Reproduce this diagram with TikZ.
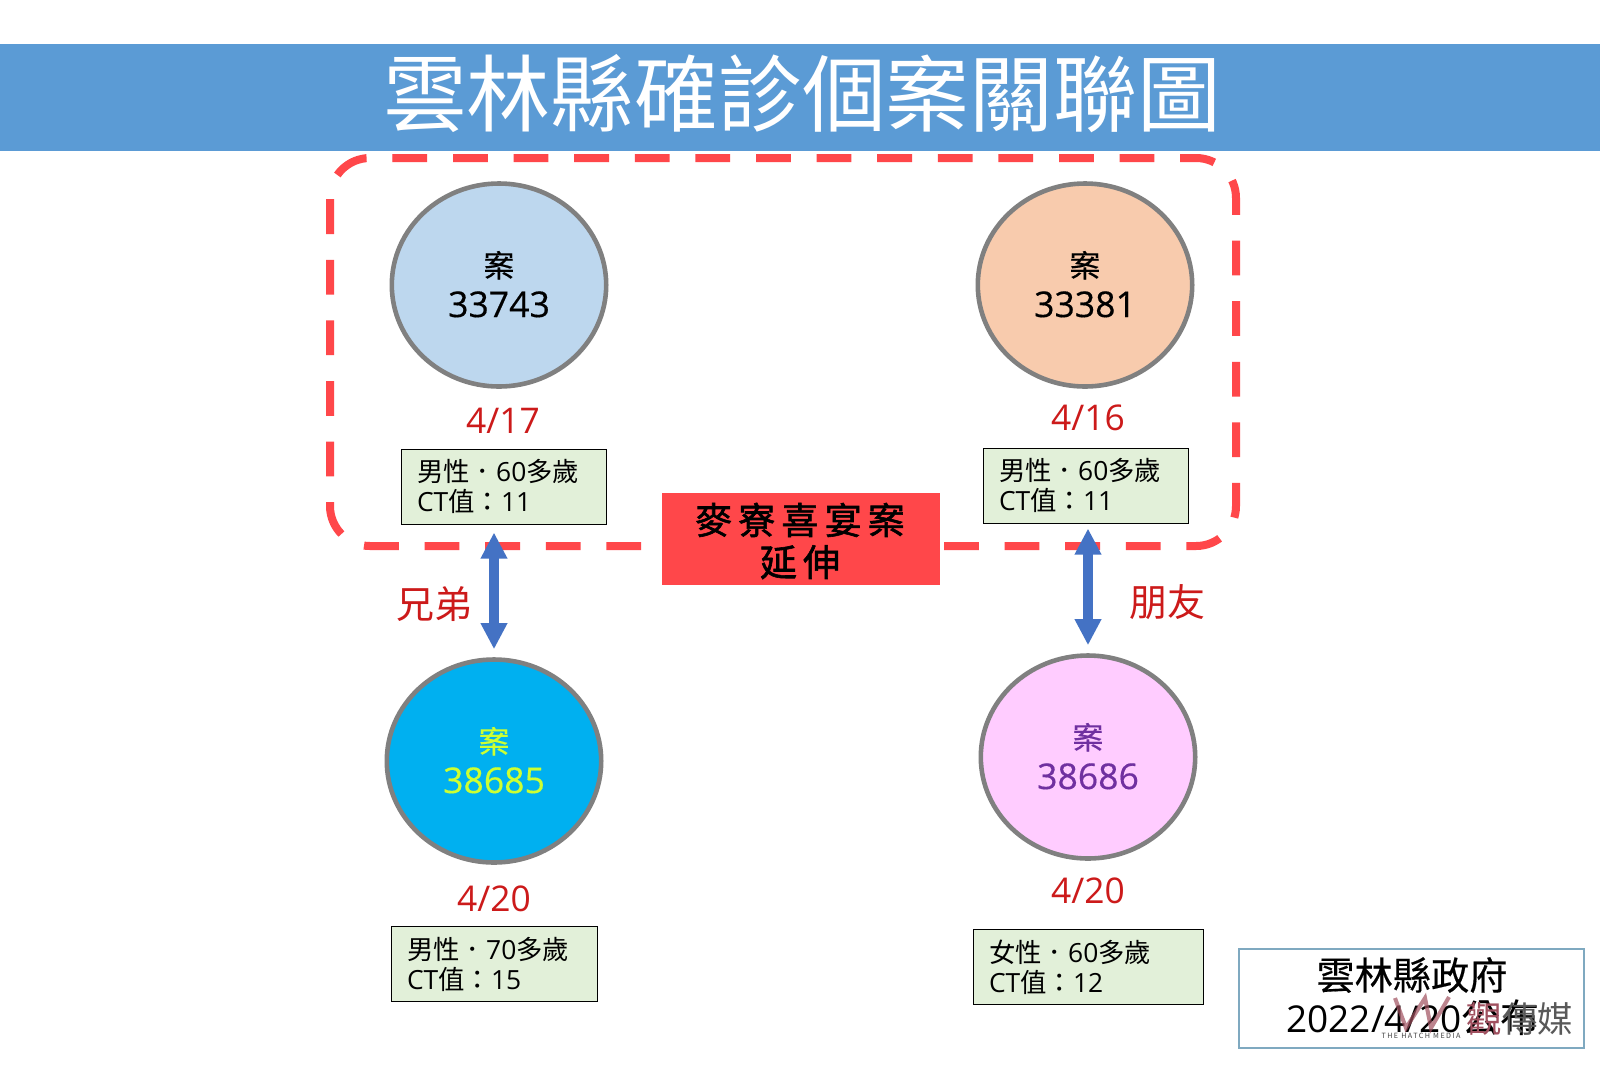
\documentclass[tikz,border=0pt]{standalone}
\usepackage{fontspec}
\setmainfont{Open Sans}
\newfontfamily\hei{Noto Sans CJK TC}
\newfontfamily\heib[FakeBold=1.6]{Noto Sans CJK TC}
\newfontfamily\heim[FakeBold=0.4]{Noto Sans CJK TC}
\newfontfamily\nummed[FakeBold=0.4]{Open Sans}
\usetikzlibrary{arrows.meta,shapes.geometric}
\definecolor{band}{HTML}{5B9BD5}
\definecolor{dashred}{HTML}{FF474A}
\definecolor{datered}{HTML}{CC1A1A}
\definecolor{infogreen}{HTML}{E2F0D9}
\definecolor{arrowblue}{HTML}{4472C4}
\definecolor{logored}{HTML}{A0505F}
\definecolor{caseblue}{HTML}{BDD7EE}
\definecolor{caseorange}{HTML}{F8CBAD}
\definecolor{casecyan}{HTML}{00B0F0}
\definecolor{casepink}{HTML}{FFCCFF}
\definecolor{caseyellow}{HTML}{CCFF33}
\definecolor{casepurple}{HTML}{7030A0}
\definecolor{srcblue}{HTML}{7FA9C0}
\newcommand{\casetext}[1]{{\heim\fontsize{15.5}{20}\selectfont 案}\\{\nummed #1}\rule[-1pt]{0pt}{0pt}}
\tikzset{
  casenode/.style={ellipse,draw=black!50,line width=2.3pt,minimum width=107.2pt,minimum height=101.5pt,
    inner sep=0pt,align=center,font=\fontsize{17.8}{20}\selectfont},
  datenode/.style={text=datered,font=\fontsize{17.7}{20}\selectfont,inner sep=0pt},
  infonode/.style={draw=black,line width=.5pt,fill=infogreen,minimum height=37.5pt,inner ysep=0pt,inner xsep=8pt,
    text width=#1,align=left,font=\fontsize{13.2}{15}\selectfont},
  relnode/.style={text=datered,font=\hei\fontsize{19}{20}\selectfont,inner sep=0pt},
  rel/.style={{Triangle[width=12.5pt,length=13pt]}-{Triangle[width=12.5pt,length=13pt]},arrowblue,line width=5pt},
  groupline/.style={dashred,line width=4pt,dash pattern=on 17.4pt off 12.9pt,rounded corners=20pt}
}
\begin{document}
\begin{tikzpicture}[x=.5pt,y=-.5pt]
  \useasboundingbox (0,0) rectangle (1600,1067);
  \fill[white] (0,0) rectangle (1600,1067);
  \node[fill=band,minimum width=800pt,minimum height=53.5pt,inner sep=0pt] (band) at (800,97.5) {};
  \node[text=white,font=\hei\fontsize{41.9}{44}\selectfont,inner sep=0pt] (title) at (802,94) {雲林縣確診個案關聯圖};

  % the two halves of the frame meet behind the red box
  \draw[groupline] (392.4,158) -- (1236,158) -- (1236,546) -- (801,546);
  \draw[groupline] (823,546) -- (330,546) -- (330,158) -- (392.4,158);

  \node[casenode,fill=caseblue] (1) at (499,285) {\casetext{33743}};
  \node[casenode,fill=caseorange] (2) at (1085,285) {\casetext{33381}};
  \node[casenode,fill=casecyan,text=caseyellow] (3) at (494,761) {\casetext{38685}};
  \node[casenode,fill=casepink,text=casepurple] (4) at (1088,757) {\casetext{38686}};

  \node[datenode] (d1) at (503,421) {4/17};
  \node[datenode] (d2) at (1088,418) {4/16};
  \node[datenode] (d3) at (494,899) {4/20};
  \node[datenode] (d4) at (1088,891) {4/20};

  \node[infonode=86.5pt] (i1) at (503.5,486.5) {{\hei 男性．}60{\hei 多歲}\\CT{\hei 值：}11};
  \node[infonode=86.5pt] (i2) at (1085.5,485.5) {{\hei 男性．}60{\hei 多歲}\\CT{\hei 值：}11};
  \node[infonode=87pt] (i3) at (494,964) {{\hei 男性．}70{\hei 多歲}\\CT{\hei 值：}15};
  \node[infonode=99pt] (i4) at (1088,967) {{\hei 女性．}60{\hei 多歲}\\CT{\hei 值：}12};

  \node[fill=dashred,minimum width=139pt,minimum height=46pt,inner sep=0pt] (ext) at (801,539) {};
  \node[align=center,inner sep=0pt,font=\heib\fontsize{18.5}{21}\selectfont] (exttext) at (800,541) {麥\,寮\,喜\,宴\,案\\延\,伸};

  \draw[rel,shorten <=4pt,shorten >=4pt] (3.north |- i1.south) -- (3.north);
  \draw[rel,shorten <=2.5pt,shorten >=4pt] (4.north |- i2.south) -- (4.north);
  \node[relnode] (r1) at (434,604) {兄弟};
  \node[relnode] (r2) at (1167,602) {朋友};

  \node[draw=srcblue,line width=1pt,minimum width=172.5pt,minimum height=49.5pt,inner sep=0pt] (src) at (1411.5,998.5) {};
  \node[font=\heim\fontsize{19.1}{20}\selectfont,inner sep=0pt] (s1) at (1412,975) {雲林縣政府};
  \node[font=\fontsize{18.5}{20}\selectfont,inner sep=0pt] (s2) at (1413,1018) {2022/4/20{\hei\fontsize{19.5}{20}\selectfont 公布}};

  % watermark over the box
  \draw[logored,opacity=.7,line width=2pt] (1395,998) -- (1406,1028) -- (1425,998) -- (1431,1028) -- (1449,997);
  \node[text=black!75,font=\hei\fontsize{3.6}{4}\selectfont\addfontfeature{LetterSpace=20},inner sep=0pt] (hatch) at (1421,1036) {THE HATCH MEDIA};
  \node[text=black!65,font=\hei\fontsize{17.8}{20}\selectfont,inner sep=0pt] (wm) at (1520,1019) {\textcolor{logored}{觀}傳媒};
\end{tikzpicture}
\end{document}
